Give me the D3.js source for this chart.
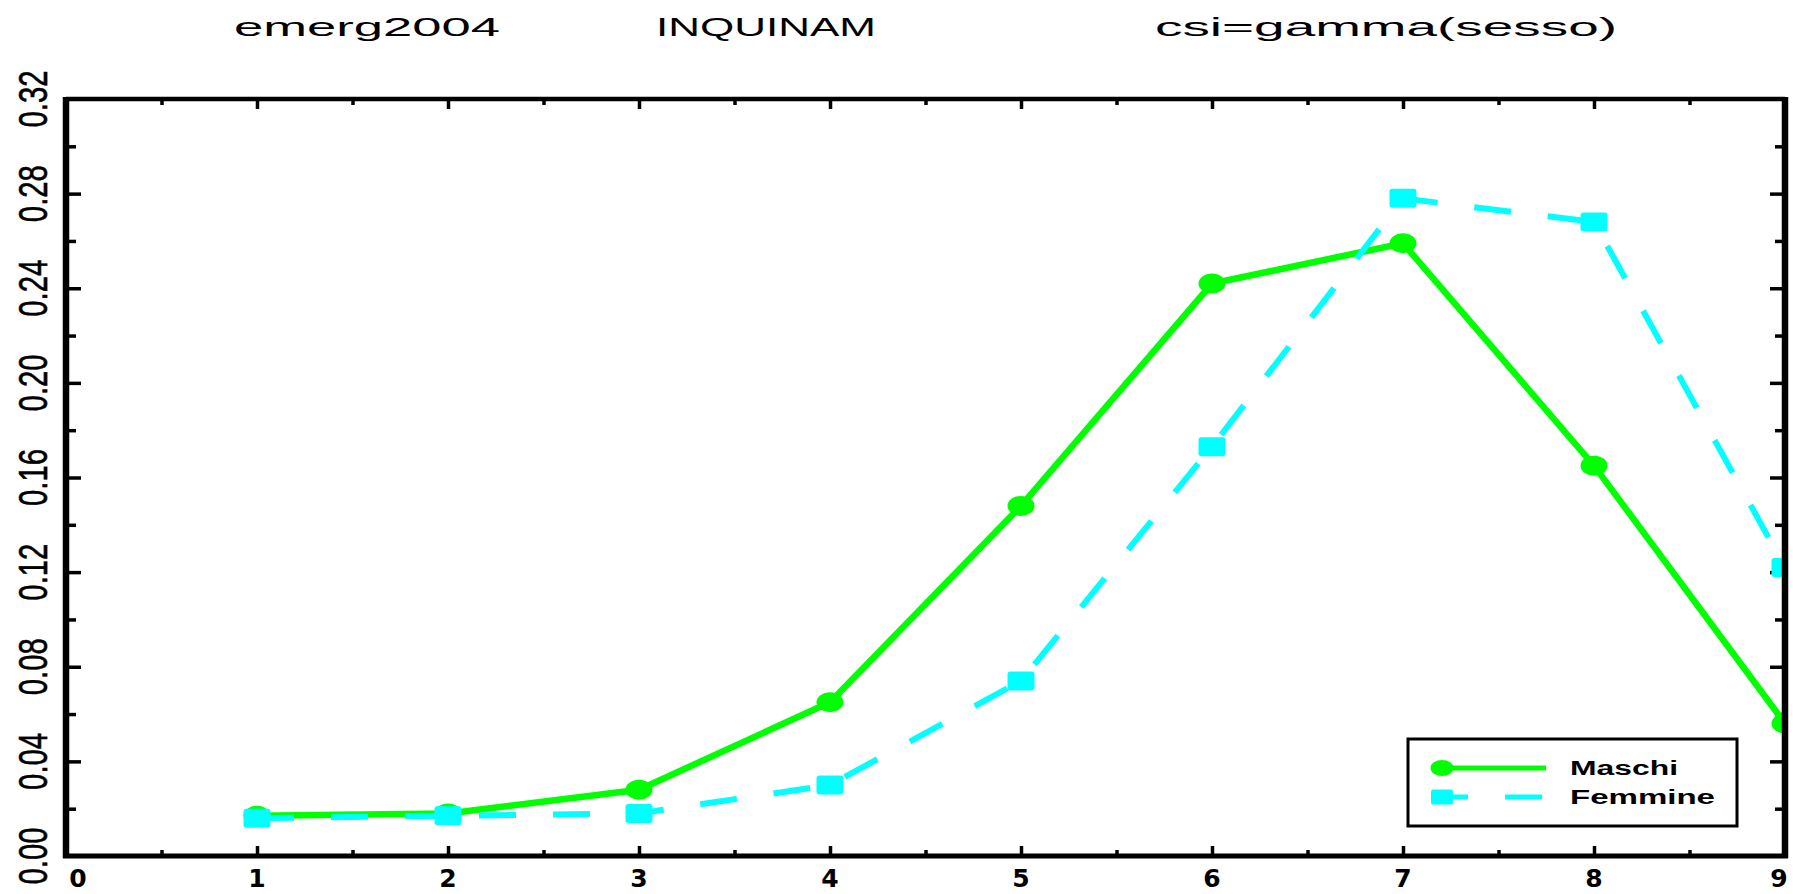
<!DOCTYPE html>
<html>
<head>
<meta charset="utf-8">
<script src="https://cdn.jsdelivr.net/npm/d3@7"></script>
<style>
  html, body { margin: 0; padding: 0; background: #fff; overflow: hidden; }
  svg { display: block; }
</style>
</head>
<body>
<svg id="chart" width="1793" height="894"></svg>
<script>
// Age classes on the x axis and the share of each sex per class
const classes = [1, 2, 3, 4, 5, 6, 7, 8, 9];
const maschi = [0.017, 0.018, 0.028, 0.065, 0.148, 0.242, 0.259, 0.165, 0.056];
const femmine = [0.016, 0.017, 0.018, 0.030, 0.074, 0.173, 0.278, 0.268, 0.122];

const xTickLabels = [0, 1, 2, 3, 4, 5, 6, 7, 8, 9];
const xMinorTicks = [0.5, 1.5, 2.5, 3.5, 4.5, 5.5, 6.5, 7.5, 8.5];
const yTickLabels = ["0.00", "0.04", "0.08", "0.12", "0.16", "0.20", "0.24", "0.28", "0.32"];
const yMinorTicks = [0.02, 0.06, 0.10, 0.14, 0.18, 0.22, 0.26, 0.30];

const titles = ["emerg2004", "INQUINAM", "csi=gamma(sesso)"];
const seriesNames = ["Maschi", "Femmine"];

const GREEN = "#00ff00";
const CYAN = "#00ffff";

const svg = d3.select("#chart");
const L = 66, R = 1785, T = 99, B = 856;

const x = d3.scaleLinear().domain([0, 9]).range([L, R]);
const y = d3.scaleLinear().domain([0, 0.32]).range([B, T]);

// Titles across the top
const titleSpecs = [
  { text: titles[0], x: 234, w: 266 },
  { text: titles[1], x: 656, w: 220 },
  { text: titles[2], x: 1155, w: 462 }
];
svg.selectAll("text.title").data(titleSpecs).join("text")
  .attr("class", "title")
  .attr("x", d => d.x).attr("y", 36)
  .attr("font-family", "Liberation Sans, Arial, sans-serif")
  .attr("font-size", 25)
  .attr("textLength", d => d.w)
  .attr("lengthAdjust", "spacingAndGlyphs")
  .attr("fill", "#000")
  .text(d => d.text);

// Tick marks pointing into the plot
function tickAxis(axisGen, transform, values, size) {
  const g = svg.append("g").attr("transform", transform)
    .call(axisGen.tickValues(values).tickSize(size).tickFormat(""));
  g.select(".domain").remove();
  g.selectAll(".tick line").attr("stroke", "#000").attr("stroke-width", 3.5);
}
const xMajor = xTickLabels.slice(1, 9);
tickAxis(d3.axisBottom(x), `translate(0,${B})`, xMajor, -10);
tickAxis(d3.axisBottom(x), `translate(0,${B})`, xMinorTicks, -6);
tickAxis(d3.axisTop(x), `translate(0,${T})`, xMajor, -10);
tickAxis(d3.axisTop(x), `translate(0,${T})`, xMinorTicks, -6);
const yMajor = yTickLabels.map(Number).slice(1, 8);
tickAxis(d3.axisLeft(y), `translate(${L},0)`, yMajor, -15);
tickAxis(d3.axisLeft(y), `translate(${L},0)`, yMinorTicks, -10);
tickAxis(d3.axisRight(y), `translate(${R},0)`, yMajor, -15);
tickAxis(d3.axisRight(y), `translate(${R},0)`, yMinorTicks, -10);

// Clip the data to the frame
svg.append("clipPath").attr("id", "plotClip")
  .append("rect").attr("x", L).attr("y", T).attr("width", R - L).attr("height", B - T);
const plot = svg.append("g").attr("clip-path", "url(#plotClip)");

const line = d3.line().x(d => x(d[0])).y(d => y(d[1]));

// Maschi: solid green with round markers
const mData = classes.map((c, i) => [c, maschi[i]]);
plot.append("path").datum(mData)
  .attr("d", line).attr("fill", "none")
  .attr("stroke", GREEN).attr("stroke-width", 6.5);
plot.selectAll("ellipse.m").data(mData).join("ellipse")
  .attr("class", "m")
  .attr("cx", d => x(d[0])).attr("cy", d => y(d[1]))
  .attr("rx", 13.5).attr("ry", 10)
  .attr("fill", GREEN);

// Femmine: dashed cyan with square markers
const fData = classes.map((c, i) => [c, femmine[i]]);
plot.append("path").datum(fData)
  .attr("d", line).attr("fill", "none")
  .attr("stroke", CYAN).attr("stroke-width", 6)
  .attr("stroke-dasharray", "37,37");
plot.selectAll("rect.f").data(fData).join("rect")
  .attr("class", "f")
  .attr("x", d => x(d[0]) - 13.5).attr("y", d => y(d[1]) - 9.5)
  .attr("width", 27).attr("height", 19).attr("rx", 3)
  .attr("fill", CYAN);

// Frame
svg.append("line").attr("x1", L).attr("x2", R).attr("y1", T).attr("y2", T)
  .attr("stroke", "#000").attr("stroke-width", 4.5);
svg.append("line").attr("x1", L - 3).attr("x2", R + 3).attr("y1", B).attr("y2", B)
  .attr("stroke", "#000").attr("stroke-width", 5);
svg.append("line").attr("x1", L).attr("x2", L).attr("y1", T - 2).attr("y2", B + 2)
  .attr("stroke", "#000").attr("stroke-width", 6.5);
svg.append("line").attr("x1", R).attr("x2", R).attr("y1", T - 2).attr("y2", B + 2)
  .attr("stroke", "#000").attr("stroke-width", 6.5);

// Y tick labels, rotated and condensed
svg.selectAll("text.ylab").data(yTickLabels).join("text")
  .attr("class", "ylab")
  .attr("transform", d => `translate(47,${y(+d)}) rotate(-90)`)
  .attr("text-anchor", "middle")
  .attr("font-family", "Liberation Sans, Arial, sans-serif")
  .attr("font-size", 40)
  .attr("stroke", "#000").attr("stroke-width", 0.6)
  .attr("textLength", 57)
  .attr("lengthAdjust", "spacingAndGlyphs")
  .attr("fill", "#000")
  .text(d => d);

// X tick labels along the bottom edge
svg.selectAll("text.xlab").data(xTickLabels).join("text")
  .attr("class", "xlab")
  .attr("x", d => d === 0 ? x(d) + 12 : (d === 9 ? x(d) - 6 : x(d)))
  .attr("y", 887)
  .attr("text-anchor", "middle")
  .attr("font-family", "DejaVu Sans, sans-serif")
  .attr("font-weight", "bold")
  .attr("font-size", 25)
  .attr("fill", "#000")
  .text(d => d);

// Legend
const lg = svg.append("g");
lg.append("rect").attr("x", 1408).attr("y", 739).attr("width", 329).attr("height", 87)
  .attr("fill", "#fff").attr("stroke", "#000").attr("stroke-width", 3);
const legendRows = [
  { name: seriesNames[0], color: GREEN, y: 768, dash: null, shape: "circle", w: 108 },
  { name: seriesNames[1], color: CYAN, y: 797, dash: "37,37", shape: "square", w: 145 }
];
legendRows.forEach(r => {
  lg.append("line").attr("x1", r.dash ? 1431 : 1442).attr("x2", 1546)
    .attr("y1", r.y).attr("y2", r.y)
    .attr("stroke", r.color).attr("stroke-width", 5)
    .attr("stroke-dasharray", r.dash);
  if (r.shape === "circle") {
    lg.append("ellipse").attr("cx", 1442).attr("cy", r.y).attr("rx", 11.5).attr("ry", 8)
      .attr("fill", r.color);
  } else {
    lg.append("rect").attr("x", 1431).attr("y", r.y - 7.5).attr("width", 22).attr("height", 15)
      .attr("rx", 2).attr("fill", r.color);
  }
  lg.append("text").attr("x", 1570).attr("y", r.y + 7)
    .attr("font-family", "Liberation Sans, Arial, sans-serif")
    .attr("font-weight", "bold").attr("font-size", 20)
    .attr("textLength", r.w).attr("lengthAdjust", "spacingAndGlyphs")
    .attr("fill", "#000")
    .text(r.name);
});
</script>
</body>
</html>
